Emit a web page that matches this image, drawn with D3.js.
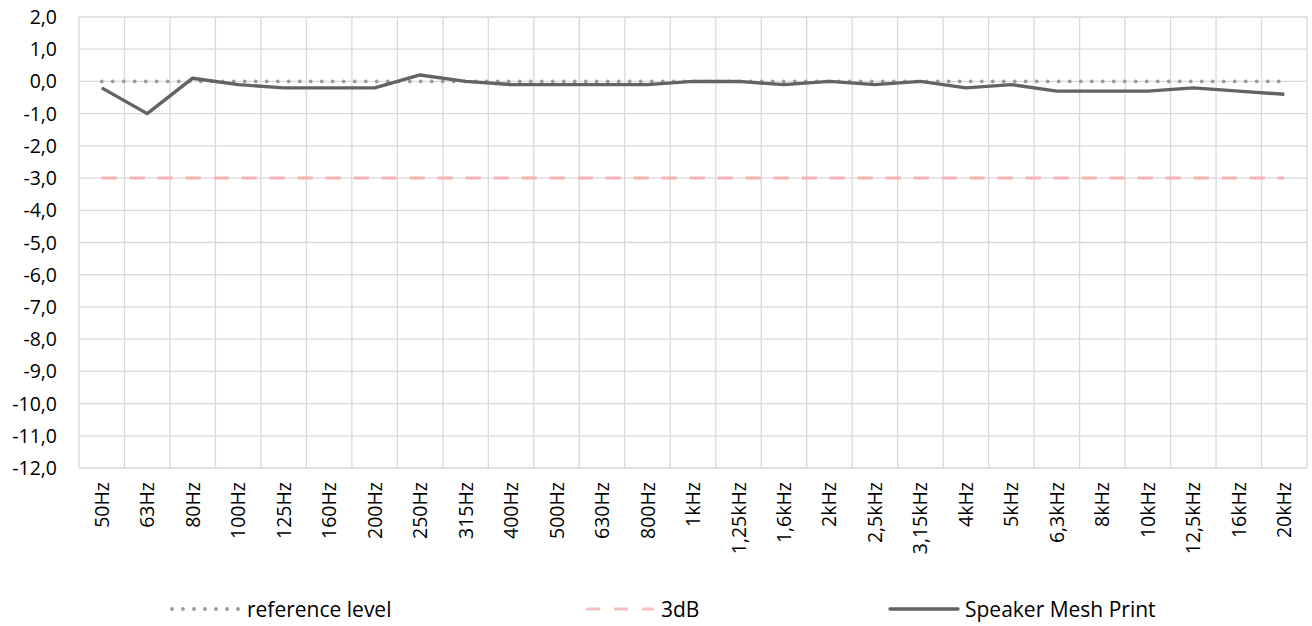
<!DOCTYPE html>
<html>
<head>
<meta charset="utf-8">
<script src="https://cdn.jsdelivr.net/npm/d3@7"></script>
<style>
  body { margin: 0; background: #fff; }
  text { font-family: "Open Sans", "Noto Sans", sans-serif; fill: #000; }
</style>
</head>
<body>
<script>
// frequency bands
var bands = ["50Hz", "63Hz", "80Hz", "100Hz", "125Hz", "160Hz", "200Hz", "250Hz", "315Hz",
             "400Hz", "500Hz", "630Hz", "800Hz", "1kHz", "1,25kHz", "1,6kHz", "2kHz", "2,5kHz",
             "3,15kHz", "4kHz", "5kHz", "6,3kHz", "8kHz", "10kHz", "12,5kHz", "16kHz", "20kHz"];
var referenceLevel = bands.map(function () { return 0; });
var threeDb = bands.map(function () { return -3; });
var meshPrint = [-0.2, -1.0, 0.1, -0.1, -0.2, -0.2, -0.2, 0.2, 0.0,
                 -0.1, -0.1, -0.1, -0.1, 0.0, 0.0, -0.1, 0.0, -0.1,
                 0.0, -0.2, -0.1, -0.3, -0.3, -0.3, -0.2, -0.3, -0.4];
var yTicks = d3.range(2, -13, -1);

var w = 1312, h = 626;
var pLeft = 79, pRight = 1307, pTop = 17, pBottom = 468;

var svg = d3.select("body").append("svg").attr("width", w).attr("height", h);

var x = d3.scaleBand().domain(bands).range([pLeft, pRight]);
var y = d3.scaleLinear().domain([-12, 2]).range([pBottom, pTop]);
var fmt = function (v) { return d3.format(".1f")(v).replace(".", ",").replace("−", "-"); };

// horizontal grid
svg.append("g").selectAll("line").data(yTicks).enter().append("line")
  .attr("x1", pLeft).attr("x2", pRight)
  .attr("y1", function (d) { return y(d); }).attr("y2", function (d) { return y(d); })
  .attr("stroke", "#d9d9d9").attr("stroke-width", 1.3);

// vertical grid at band edges
var edges = bands.map(function (b) { return x(b); }).concat([pRight]);
svg.append("g").selectAll("line").data(edges).enter().append("line")
  .attr("x1", function (d) { return d; }).attr("x2", function (d) { return d; })
  .attr("y1", pTop).attr("y2", pBottom)
  .attr("stroke", "#d9d9d9").attr("stroke-width", 1.3);

// y labels
svg.append("g").selectAll("text").data(yTicks).enter().append("text")
  .attr("x", 57).attr("y", function (d) { return y(d); })
  .attr("dy", "0.36em").attr("text-anchor", "end")
  .style("font-size", "19.5px")
  .text(fmt);

// x labels
svg.append("g").selectAll("text").data(bands).enter().append("text")
  .attr("transform", function (d) {
    return "translate(" + (x(d) + x.bandwidth() / 2) + ",482) rotate(-90)";
  })
  .attr("dy", "0.36em").attr("text-anchor", "end")
  .style("font-size", "19.5px")
  .text(function (d) { return d; });

var line = d3.line()
  .x(function (d, i) { return x(bands[i]) + x.bandwidth() / 2; })
  .y(function (d) { return y(d); });

svg.append("path").datum(threeDb).attr("d", line)
  .attr("fill", "none").attr("stroke", "#f4b3b3").attr("stroke-width", 3)
  .attr("stroke-dasharray", "15,13");

svg.append("path").datum(referenceLevel).attr("d", line)
  .attr("fill", "none").attr("stroke", "#9a9a9a").attr("stroke-width", 3.8)
  .attr("stroke-linecap", "round").attr("stroke-dasharray", "0,11");

svg.append("path").datum(meshPrint).attr("d", line)
  .attr("fill", "none").attr("stroke", "#626366").attr("stroke-width", 3.4)
  .attr("stroke-linejoin", "round");

// legend
var legend = [
  { name: "reference level", x: 172, color: "#9a9a9a", dash: "0,11", w: 3.8, cap: "round" },
  { name: "3dB", x: 586, color: "#f7c0c0", dash: "14,14", w: 3, cap: "butt" },
  { name: "Speaker Mesh Print", x: 890, color: "#626366", dash: null, w: 3.4, cap: "round" }
];
var lg = svg.append("g").selectAll("g").data(legend).enter().append("g");
lg.append("line")
  .attr("x1", function (d) { return d.x; }).attr("x2", function (d) { return d.x + 68; })
  .attr("y1", 609).attr("y2", 609)
  .attr("stroke", function (d) { return d.color; })
  .attr("stroke-width", function (d) { return d.w; })
  .attr("stroke-linecap", function (d) { return d.cap; })
  .attr("stroke-dasharray", function (d) { return d.dash; });
lg.append("text")
  .attr("x", function (d) { return d.x + 75; }).attr("y", 609)
  .attr("dy", "0.36em").style("font-size", "21px")
  .text(function (d) { return d.name; });
</script>
</body>
</html>
